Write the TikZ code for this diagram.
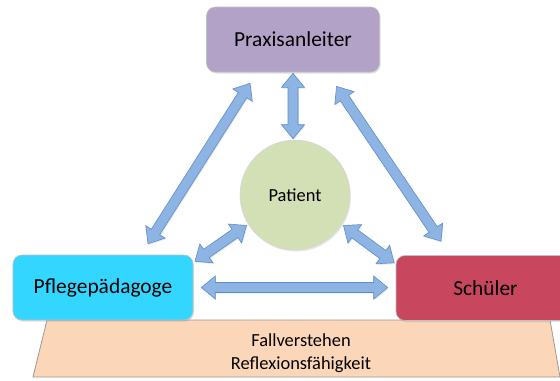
\documentclass[tikz,border=0pt]{standalone}
\usepackage{fontspec}
\setmainfont{Carlito}
\usetikzlibrary{calc, shadows}

\definecolor{paFill}{HTML}{B3A2C7}
\definecolor{ppFill}{HTML}{33D6FF}
\definecolor{scFill}{HTML}{C9465F}
\definecolor{patFill}{HTML}{D3DFB5}
\definecolor{baseFill}{HTML}{FBD6B8}
\definecolor{arrFill}{HTML}{8DB4E2}
\definecolor{arrLine}{HTML}{5B8FCF}

\begin{document}
\begin{tikzpicture}[x=1bp, y=-1bp,
    role/.style={draw=black!25, line width=0.6bp, rounded corners=9bp,
        minimum height=65bp, text=black,
        font=\fontsize{21.5}{24}\selectfont,
        drop shadow={shadow xshift=1bp, shadow yshift=-1.5bp, opacity=0.25}},
    dblarrow/.style={draw=arrLine, fill=arrFill, line width=0.6bp,
        drop shadow={shadow xshift=0.8bp, shadow yshift=-1.2bp, opacity=0.2},
        to path={
            ($(\tikztostart)!#1!(\tikztotarget)$) coordinate (tipA)
            ($(\tikztotarget)!#1!(\tikztostart)$) coordinate (tipB)
            ($(tipA)!14bp!(tipB)$) coordinate (neckA)
            ($(tipB)!14bp!(tipA)$) coordinate (neckB)
            (tipA) -- ($(neckA)!11.5bp!90:(tipB)$) -- ($(neckA)!5bp!90:(tipB)$)
            -- ($(neckB)!5bp!-90:(tipA)$) -- ($(neckB)!11.5bp!-90:(tipA)$)
            -- (tipB) -- ($(neckB)!11.5bp!90:(tipA)$) -- ($(neckB)!5bp!90:(tipA)$)
            -- ($(neckA)!5bp!-90:(tipB)$) -- ($(neckA)!11.5bp!-90:(tipB)$) -- cycle}},
    dblarrow/.default=0bp]
    \useasboundingbox (0,0) rectangle (560,380);

    % Basis
    \draw[fill=baseFill, draw=black!40, line width=0.8bp] (47,320) -- (550,320) -- (560,377) -- (33,377) -- cycle;
    \node[align=center, font=\fontsize{18.5}{23}\selectfont, text=black] (basis) at (301,353) {Fallverstehen\\Reflexionsfähigkeit};

    % Rollen
    \node[role, fill=paFill, minimum width=173bp] (pa) at (293,39.5) {Praxisanleiter};
    \node[role, fill=ppFill, minimum width=180bp] (pp) at (103,287.5) {Pflegepädagoge};
    \node[role, fill=scFill, minimum width=179bp] (sc) at (485.5,288) {Schüler};
    \node[circle, fill=patFill, draw=black!15, line width=0.6bp, minimum size=110bp,
        font=\fontsize{18.5}{20}\selectfont, text=black,
        drop shadow={shadow xshift=1bp, shadow yshift=-1.5bp, opacity=0.2}] (pat) at (295,195) {Patient};

    % Beziehungen
    \draw[dblarrow=1bp] (pa.south) to (pa.south |- pat.north);
    \draw[dblarrow=13bp] ([xshift=-36bp]pa.south) to ([xshift=38bp]pp.north);
    \draw[dblarrow=17bp] ([xshift=34bp]pa.south) to ([xshift=-35bp]sc.north);
    \draw[dblarrow=2bp] (pat.212) to ([yshift=25bp]pp.east);
    \draw[dblarrow=2bp] (pat.-32.5) to ([yshift=24bp]sc.west);
    \draw[dblarrow=8bp] (pp.east) to (pp.east -| sc.west);
\end{tikzpicture}
\end{document}
